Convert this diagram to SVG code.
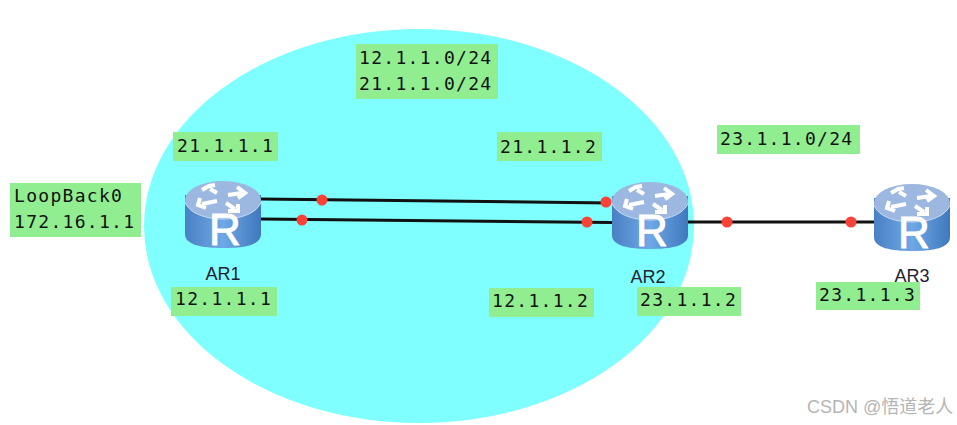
<svg xmlns="http://www.w3.org/2000/svg" xmlns:xlink="http://www.w3.org/1999/xlink" width="957" height="425" viewBox="0 0 957 425">
<style>
.lbl{fill:#90ee90}
.m{font-family:"DejaVu Sans Mono","Liberation Mono",monospace;font-size:18px;fill:#111;letter-spacing:1.3px}
.n{font-family:"Liberation Sans",Arial,sans-serif;font-size:18px;fill:#223}
.ln{stroke:#111;stroke-width:3;fill:none}
.dot{fill:#fb4238}
</style>
<defs>
<linearGradient id="body" x1="0" x2="1" y1="0" y2="0">
<stop offset="0" stop-color="#4a80c4"/><stop offset="0.5" stop-color="#6fa8e6"/><stop offset="1" stop-color="#3f78bd"/>
</linearGradient>
<g id="router">
<path d="M-38-19V20C-38 31-21 34 0 34S38 31 38 20V-19Z" fill="url(#body)"/>
<ellipse cx="0" cy="-14" rx="38" ry="19" fill="#9db8e0"/>
<path d="M-38-12C-34-1-18 5 0 5S34-1 38-12" fill="none" stroke="#c9dcf3" stroke-width="1"/>
<g fill="none" stroke="#fff" stroke-width="4">
<path d="M-6-13L-21-10M-23-16L-25-9L-17-6"/>
<path d="M-6-21L-13-25M-21-24L-14-28L-8-29"/>
<path d="M5-19L19-21M14-27L22-21L15-16"/>
<path d="M3-11L12-5M5-3L15-3L15-10"/>
</g>
<text x="2" y="31" text-anchor="middle" font-family="Liberation Sans,Arial,sans-serif" font-size="44" fill="#fff" stroke="#fff" stroke-width="1">R</text>
</g>
</defs>
<ellipse id="area" cx="419" cy="226" rx="275" ry="197" fill="#7fffff"/>
<g id="connectors">
<path class="ln" d="M260 199L610 203"/>
<path class="ln" d="M260 219L612 222.500"/>
<path class="ln" d="M688 222H876"/>
<circle class="dot" cx="322" cy="200" r="5.500"/>
<circle class="dot" cx="302" cy="220" r="5.500"/>
<circle class="dot" cx="606" cy="202" r="5.500"/>
<circle class="dot" cx="587" cy="222" r="5.500"/>
<circle class="dot" cx="727" cy="222" r="5.500"/>
<circle class="dot" cx="851" cy="222" r="5.500"/>
</g>
<g id="AR1"><use xlink:href="#router" href="#router" x="223" y="214"/><text class="n" x="223" y="280" text-anchor="middle">AR1</text></g>
<g id="AR2"><use xlink:href="#router" href="#router" x="650" y="215"/><text class="n" x="648" y="283" text-anchor="middle">AR2</text></g>
<g id="AR3"><use xlink:href="#router" href="#router" x="912" y="217"/><text class="n" x="912" y="282" text-anchor="middle">AR3</text></g>
<g id="label-net12"><rect class="lbl" x="356" y="44" width="142" height="55"/><text class="m" x="359" y="64">12.1.1.0/24</text><text class="m" x="359" y="90">21.1.1.0/24</text></g>
<g id="label-ar1-21"><rect class="lbl" x="173" y="132" width="105" height="29"/><text class="m" x="177" y="152">21.1.1.1</text></g>
<g id="label-ar2-21"><rect class="lbl" x="497" y="132" width="105" height="29"/><text class="m" x="500" y="153">21.1.1.2</text></g>
<g id="label-net23"><rect class="lbl" x="717" y="125" width="143" height="29"/><text class="m" x="720" y="145">23.1.1.0/24</text></g>
<g id="label-loop"><rect class="lbl" x="10" y="183" width="131" height="54"/><text class="m" x="14" y="202">LoopBack0</text><text class="m" x="14" y="228">172.16.1.1</text></g>
<g id="label-ar1-12"><rect class="lbl" x="171" y="287" width="106" height="29"/><text class="m" x="175" y="305">12.1.1.1</text></g>
<g id="label-ar2-12"><rect class="lbl" x="489" y="288" width="105" height="29"/><text class="m" x="492" y="307">12.1.1.2</text></g>
<g id="label-ar2-23"><rect class="lbl" x="637" y="287" width="104" height="29"/><text class="m" x="640" y="306">23.1.1.2</text></g>
<g id="label-ar3-23"><rect class="lbl" x="816" y="282" width="104" height="28"/><text class="m" x="819" y="301">23.1.1.3</text></g>
<text x="807" y="413" font-family="Liberation Sans,'Noto Sans CJK SC',sans-serif" font-size="18" fill="#b5b5b5">CSDN @悟道老人</text>
</svg>
